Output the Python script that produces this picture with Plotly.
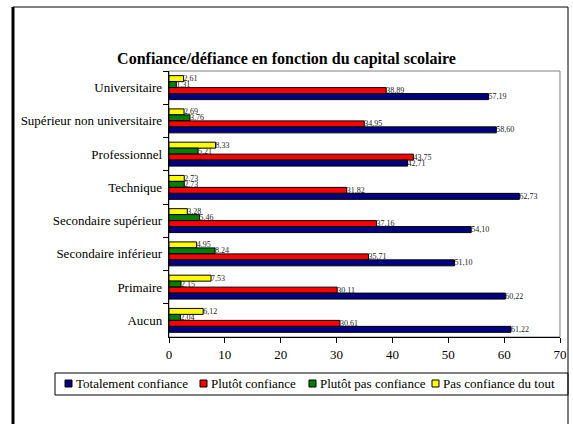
import plotly.graph_objects as go

categories = ['Universitaire', 'Supérieur non universitaire', 'Professionnel', 'Technique',
              'Secondaire supérieur', 'Secondaire inférieur', 'Primaire', 'Aucun']

totalement = [57.19, 58.60, 42.71, 62.73, 54.10, 51.10, 60.22, 61.22]
plutot = [38.89, 34.95, 43.75, 31.82, 37.16, 35.71, 30.11, 30.61]
plutot_pas = [1.31, 3.76, 5.21, 2.73, 5.46, 8.24, 2.15, 2.04]
pas_du_tout = [2.61, 2.69, 8.33, 2.73, 3.28, 4.95, 7.53, 6.12]

series = [('Totalement confiance', totalement, '#000080'),
          ('Plutôt confiance', plutot, '#FF0000'),
          ('Plutôt pas confiance', plutot_pas, '#008000'),
          ('Pas confiance du tout', pas_du_tout, '#FFFF00')]

# plot area in px
W, H = 573, 424
L, R, T, B = 169, 560, 71, 337
pw, ph = R - L, B - T
def px(x):
    return (x - L) / pw
def py(y):
    return (B - y) / ph

fig = go.Figure()
# reversed so the yellow bar sits on top of each group (y axis is reversed)
for name, vals, col in series[::-1]:
    fig.add_trace(go.Bar(
        y=categories, x=vals, name=name, orientation='h', showlegend=False,
        marker=dict(color=col, line=dict(color='black', width=1)),
        texttemplate='%{x:.2f}',
        textposition='outside', cliponaxis=False, constraintext='none',
        textfont=dict(size=8, color='#222222', family='Liberation Serif'),
    ))

shapes = [
    dict(type='rect', xref='paper', yref='paper', x0=0, x1=1, y0=0, y1=1,
         line=dict(color='#808080', width=1), layer='below'),
    dict(type='rect', xref='paper', yref='paper', x0=px(13), x1=px(568),
         y0=py(440), y1=py(7), line=dict(color='black', width=1)),
    dict(type='line', xref='paper', yref='paper', x0=px(13), x1=px(13),
         y0=py(440), y1=py(7), line=dict(color='black', width=3)),
    # legend box
    dict(type='rect', xref='paper', yref='paper', x0=px(55), x1=px(568),
         y0=py(395), y1=py(373), line=dict(color='black', width=1)),
]
annotations = []
legend_x = [65, 200, 309, 432]
for (name, vals, col), lx in zip(series, legend_x):
    shapes.append(dict(type='rect', xref='paper', yref='paper', x0=px(lx), x1=px(lx + 7),
                       y0=py(387), y1=py(380), fillcolor=col,
                       line=dict(color='black', width=1)))
    annotations.append(dict(text=name, xref='paper', yref='paper', x=px(lx + 9), y=py(383.5),
                            xanchor='left', yanchor='middle', showarrow=False,
                            font=dict(size=13, family='Liberation Serif', color='black')))

fig.update_layout(
    width=W, height=H,
    margin=dict(l=L, r=W - R, t=T, b=H - B, autoexpand=False),
    paper_bgcolor='white', plot_bgcolor='white',
    font=dict(family='Liberation Serif', size=13, color='black'),
    separators=', ',
    barmode='group', bargap=0.28, bargroupgap=0,
    showlegend=False,
    title=dict(text='<b>Confiance/défiance en fonction du capital scolaire</b>',
               x=0.5, xanchor='center', y=1 - 58 / H, yanchor='middle',
               font=dict(size=16, family='Liberation Serif', color='black')),
    xaxis=dict(range=[0, 70], dtick=10, ticks='outside', ticklen=5, tickcolor='black',
               showline=True, linecolor='black', linewidth=1, showgrid=False, zeroline=False,
               tickfont=dict(size=13)),
    yaxis=dict(autorange='reversed', ticks='outside', ticklen=5, tickcolor='black',
               tickson='boundaries', showline=True, linecolor='black', linewidth=1,
               showgrid=False, tickfont=dict(size=13), ticksuffix=' '),
    shapes=shapes,
    annotations=annotations,
)

fig.write_html('out.html', config={'displayModeBar': False},
               post_script="document.body.style.margin='0px';")
